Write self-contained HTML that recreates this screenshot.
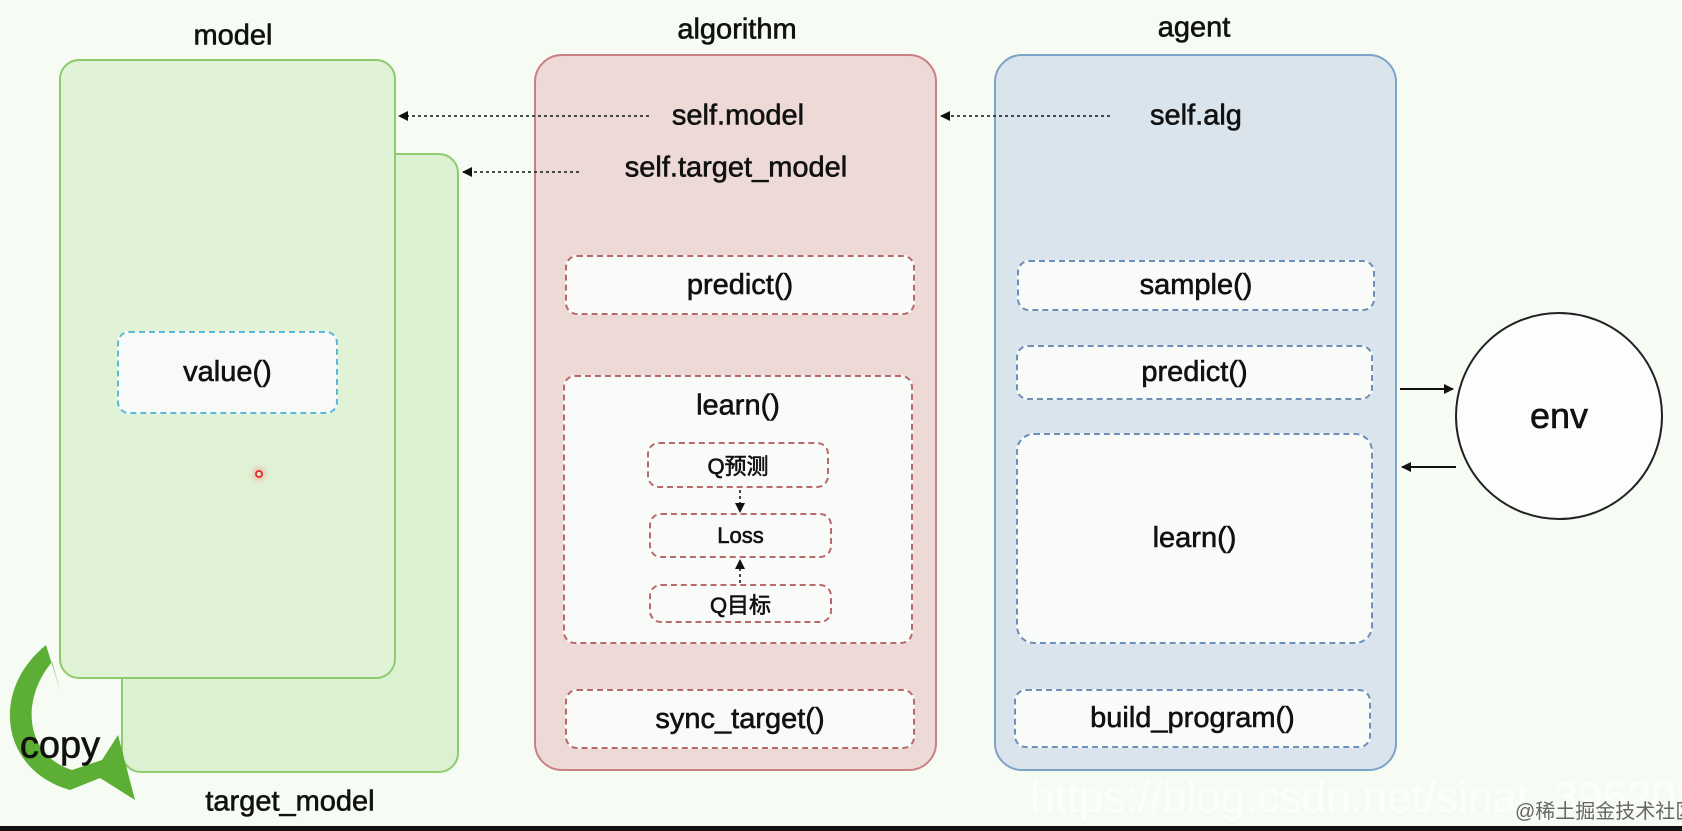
<!DOCTYPE html>
<html><head><meta charset="utf-8"><style>
body{margin:0;width:1682px;height:831px;background:#f6fbf4;position:relative;overflow:hidden;font-family:"Liberation Sans","Noto Sans CJK SC",sans-serif;color:#111}
.a{position:absolute;box-sizing:border-box}
.t{position:absolute;transform:translate(-50%,-50%);white-space:nowrap;font-size:29px;-webkit-text-stroke:0.6px #111}
.box{display:flex;align-items:center;justify-content:center;font-size:29px;border-radius:12px;background:#f9fbf8;-webkit-text-stroke:0.6px #111}
.r{border:2.5px dashed #b86a6a}
.b{border:2.5px dashed #6d8fb8}
</style></head><body>
<div class="a" style="left:121px;top:153px;width:338px;height:620px;background:#dcf1d2;border:2px solid #8ecb6e;border-radius:20px"></div>
<div class="a" style="left:59px;top:59px;width:337px;height:620px;background:#e0f3d6;border:2px solid #8ecb6e;border-radius:20px"></div>
<div class="a box" style="left:117px;top:331px;width:221px;height:83px;border:2.5px dashed #5ab8d8;background:#f7faf6">value()</div>
<div class="a" style="left:255px;top:470px;width:8px;height:8px;border-radius:50%;border:2px solid #d33;box-shadow:0 0 8px #f66"></div>

<div class="a" style="left:534px;top:54px;width:403px;height:717px;background:#eddad6;border:2px solid #c98080;border-radius:28px"></div>
<div class="a" style="left:994px;top:54px;width:403px;height:717px;background:#d9e4ec;border:2px solid #7ea3c8;border-radius:28px"></div>

<div class="a box r" style="left:565px;top:255px;width:350px;height:60px">predict()</div>
<div class="a r" style="left:563px;top:375px;width:350px;height:269px;border-radius:12px;background:#f9fbf8"></div>
<div class="t" style="left:738px;top:406px">learn()</div>
<div class="a box r" style="left:647px;top:442px;width:182px;height:46px;font-size:22px">Q预测</div>
<div class="a box r" style="left:649px;top:513px;width:183px;height:45px;font-size:22px">Loss</div>
<div class="a box r" style="left:649px;top:584px;width:183px;height:39px;font-size:22px">Q目标</div>
<div class="a box r" style="left:565px;top:689px;width:350px;height:60px">sync_target()</div>

<div class="a box b" style="left:1017px;top:260px;width:358px;height:51px">sample()</div>
<div class="a box b" style="left:1016px;top:345px;width:357px;height:55px">predict()</div>
<div class="a box b" style="left:1016px;top:433px;width:357px;height:211px;border-radius:18px">learn()</div>
<div class="a box b" style="left:1014px;top:689px;width:357px;height:59px">build_program()</div>

<div class="a" style="left:1455px;top:312px;width:208px;height:208px;border:2.5px solid #222;border-radius:50%;background:#fdfdfd"></div>
<div class="t" style="left:1559px;top:416px;font-size:36px">env</div>

<div class="t" style="left:233px;top:36px">model</div>
<div class="t" style="left:737px;top:30px">algorithm</div>
<div class="t" style="left:1194px;top:28px">agent</div>
<div class="t" style="left:290px;top:802px">target_model</div>
<div class="t" style="left:738px;top:116px">self.model</div>
<div class="t" style="left:736px;top:168px">self.target_model</div>
<div class="t" style="left:1196px;top:116px">self.alg</div>
<div class="t" style="left:60px;top:746px;font-size:38px;z-index:3">copy</div>

<svg class="a" style="left:0;top:0" width="1682" height="831">
<defs><marker id="m" markerWidth="10" markerHeight="10" refX="9" refY="5" orient="auto" markerUnits="userSpaceOnUse"><path d="M0,0L10,5L0,10z" fill="#111"/></marker></defs>
<g stroke="#333" stroke-width="1.8" stroke-dasharray="3,3" fill="none">
<line x1="649" y1="116" x2="399" y2="116" marker-end="url(#m)"/>
<line x1="579" y1="172" x2="463" y2="172" marker-end="url(#m)"/>
<line x1="1110" y1="116" x2="941" y2="116" marker-end="url(#m)"/>
<line x1="740" y1="490" x2="740" y2="512" marker-end="url(#m)"/>
<line x1="740" y1="583" x2="740" y2="560" marker-end="url(#m)"/>
</g>
<g stroke="#111" stroke-width="2" fill="none">
<line x1="1400" y1="389" x2="1453" y2="389" marker-end="url(#m)"/>
<line x1="1456" y1="467" x2="1402" y2="467" marker-end="url(#m)"/>
</g>
<path d="M46,645 C-10,690 0,770 70,790 L100,778 L135,800 L118,735 L102,760 L72,770 C25,755 20,700 52,662 L60,690 Z" fill="#5caf34"/>
<text x="1030" y="812" font-size="44" fill="#ffffff" fill-opacity="0.8" font-family="Liberation Sans">https://blog.csdn.net/sinat_39620217</text>
<text x="1515" y="818" font-size="20" fill="#666" font-family="Liberation Sans, Noto Sans CJK SC">@稀土掘金技术社区</text>
</svg>
<div class="a" style="left:0;top:826px;width:1682px;height:5px;background:#111"></div>
</body></html>
